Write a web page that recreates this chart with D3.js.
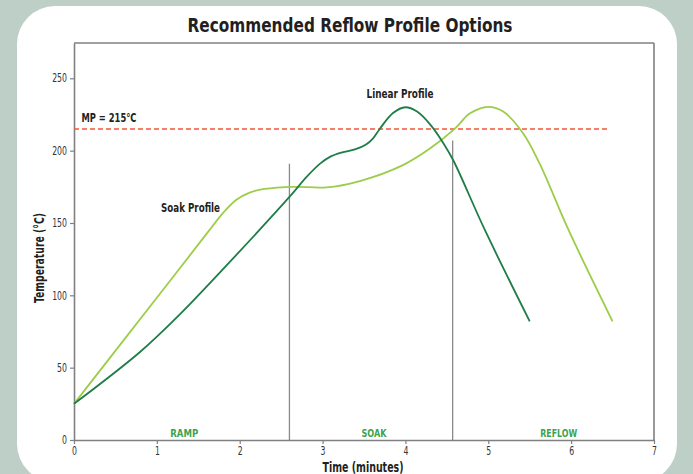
<!DOCTYPE html>
<html><head><meta charset="utf-8">
<script src="https://cdn.jsdelivr.net/npm/d3@7"></script>
<style>
html,body{margin:0;padding:0;background:#bdcfc7;}
svg{display:block;}
text{font-family:"DejaVu Sans",sans-serif;font-stretch:condensed;}
</style></head>
<body>
<svg id="chart" width="693" height="474"></svg>
<script>
// ---- data ----
const title = "Recommended Reflow Profile Options";
const xTicks = [0,1,2,3,4,5,6,7];
const yTicks = [0,50,100,150,200,250];
const linearTime = [0,0.8,1.28,1.96,2.6,2.81,2.97,3.1,3.25,3.4,3.52,3.61,3.69,3.85,4.0,4.14,4.3,4.46,4.58,4.96,5.5];
const linearTemp = [25,61,87,128,168,182,191,196,199,201,204,208.5,215,226,230,227,218,205,193,145,82];
const soakTime = [0,0.6,1.2,1.62,1.8,1.96,2.12,2.3,2.65,3.05,3.45,3.97,4.3,4.6,4.78,5.0,5.18,5.42,5.62,5.97,6.5];
const soakTemp = [25,69,113,144,157,166,171,173.5,175,174.6,179,190,201.6,215.4,225.8,230.3,227,212,191,145,82];
const meltingPoint = 215;
const mpLabel = "MP = 215°C";
const phaseBoundaries = [2.6, 4.57];
const phaseBoundaryTops = [191, 207];
const phaseNames = ["RAMP","SOAK","REFLOW"];
const phaseCenters = [1.33, 3.62, 5.85];

const svg = d3.select("#chart");
const W = 693, H = 474;

function squeeze(sel, target){
  sel.each(function(){
    const n = this.getComputedTextLength();
    const t = typeof target === "number" && target > 2 ? target : n*(target||0.8);
    d3.select(this).attr("textLength",t).attr("lengthAdjust","spacingAndGlyphs");
  });
  return sel;
}

svg.append("rect").attr("x",0).attr("y",0).attr("width",W).attr("height",H).attr("fill","#bdcfc7");
svg.append("rect").attr("x",17).attr("y",6).attr("width",660).attr("height",476)
  .attr("rx",38).attr("ry",38).attr("fill","#ffffff");

const x = d3.scaleLinear().domain([0,7]).range([74,654]);
const y = d3.scaleLinear().domain([0,274.4]).range([440,43]);
const axisColor = "#808080";

svg.append("line").attr("x1",x(0)).attr("x2",x(7)).attr("y1",y(274.4)).attr("y2",y(274.4))
  .attr("stroke",axisColor).attr("stroke-width",1.6);
svg.append("line").attr("x1",x(7)).attr("x2",x(7)).attr("y1",y(274.4)).attr("y2",y(0))
  .attr("stroke",axisColor).attr("stroke-width",1.6);

phaseBoundaries.forEach((b,i)=>{
  svg.append("line").attr("x1",x(b)).attr("x2",x(b)).attr("y1",y(phaseBoundaryTops[i])).attr("y2",y(0))
    .attr("stroke","#8a8a8a").attr("stroke-width",1.3);
});

const gy = svg.append("g").attr("transform",`translate(${x(0)},0)`)
  .call(d3.axisLeft(y).tickValues(yTicks).tickFormat(d3.format("d")).tickSize(4).tickSizeOuter(0).tickPadding(3));
const gx = svg.append("g").attr("transform",`translate(0,${y(0)})`)
  .call(d3.axisBottom(x).tickValues(xTicks).tickFormat(d3.format("d")).tickSize(4).tickSizeOuter(0).tickPadding(3));
[gy,gx].forEach(g=>{
  g.select(".domain").attr("stroke",axisColor).attr("stroke-width",1.6);
  g.selectAll(".tick line").attr("stroke",axisColor).attr("stroke-width",1.2);
  const t = g.selectAll(".tick text").attr("fill","#333").style("font-size","11.5px")
   .style("font-family",'"DejaVu Sans",sans-serif').style("font-stretch","condensed");
  squeeze(t, 0.75);
});

svg.append("line").attr("x1",x(0)).attr("x2",x(6.46)).attr("y1",y(meltingPoint)).attr("y2",y(meltingPoint))
  .attr("stroke","#f4553a").attr("stroke-width",1.5).attr("stroke-dasharray","5,3");

const line = d3.line().x(d=>x(d[0])).y(d=>y(d[1])).curve(d3.curveCatmullRom.alpha(0.5));
svg.append("path").datum(soakTime.map((t,i)=>[t,soakTemp[i]]))
  .attr("d",line).attr("fill","none").attr("stroke","#9ccd48").attr("stroke-width",1.8);
svg.append("path").datum(linearTime.map((t,i)=>[t,linearTemp[i]]))
  .attr("d",line).attr("fill","none").attr("stroke","#1f7d48").attr("stroke-width",1.8);

const bold = (sel)=>sel.attr("font-weight","bold").attr("fill","#231f20");
squeeze(bold(svg.append("text").attr("x",81.5).attr("y",y(meltingPoint)-6.5).style("font-size","12.5px").text(mpLabel)),55);
squeeze(bold(svg.append("text").attr("x",190.5).attr("y",212).attr("text-anchor","middle").style("font-size","12.5px").text("Soak Profile")),59);
squeeze(bold(svg.append("text").attr("x",400).attr("y",98).attr("text-anchor","middle").style("font-size","12.5px").text("Linear Profile")),67);

const phaseW = [28,25,37];
phaseNames.forEach((n,i)=>{
  squeeze(svg.append("text").attr("x",x(phaseCenters[i])).attr("y",437).attr("text-anchor","middle")
    .attr("font-weight","bold").attr("fill","#3da34f").style("font-size","11px").text(n), phaseW[i]);
});

squeeze(bold(svg.append("text").attr("x",350).attr("y",32).attr("text-anchor","middle").style("font-size","20px").text(title)),325);
squeeze(bold(svg.append("text").attr("x",x(3.5)-1).attr("y",471.5).attr("text-anchor","middle").style("font-size","14px").text("Time (minutes)")),81);
squeeze(bold(svg.append("text").attr("transform","translate(43.5,258) rotate(-90)").attr("text-anchor","middle").style("font-size","14px").text("Temperature (°C)")),90);
</script>
</body></html>
